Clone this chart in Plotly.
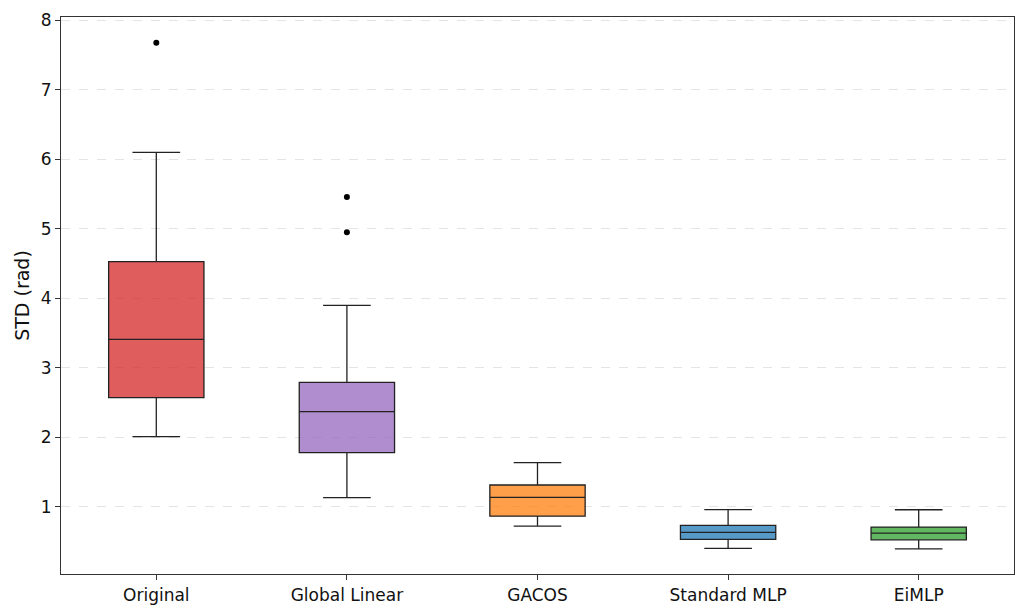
import plotly.graph_objects as go

methods = ["Original", "Global Linear", "GACOS", "Standard MLP", "EiMLP"]
q1 = [2.57, 1.78, 0.865, 0.53, 0.524]
median = [3.41, 2.37, 1.135, 0.63, 0.62]
q3 = [4.53, 2.79, 1.313, 0.731, 0.707]
lower = [2.01, 1.13, 0.72, 0.40, 0.395]
upper = [6.10, 3.90, 1.635, 0.96, 0.957]
outlier_x = ["Original", "Global Linear", "Global Linear"]
outlier_y = [7.68, 5.46, 4.95]
colors = ["rgba(214,39,40,0.75)", "rgba(148,103,189,0.75)", "rgba(255,127,14,0.75)",
          "rgba(31,119,180,0.75)", "rgba(44,160,44,0.75)"]

fig = go.Figure()
for i, m in enumerate(methods):
    fig.add_trace(go.Box(
        x=[m], q1=[q1[i]], median=[median[i]], q3=[q3[i]],
        lowerfence=[lower[i]], upperfence=[upper[i]],
        fillcolor=colors[i], line=dict(color="#222222", width=1.3),
        width=0.5, whiskerwidth=0.5, boxpoints=False, showlegend=False,
        hoverinfo="y",
    ))

fig.add_trace(go.Scatter(
    x=outlier_x, y=outlier_y, mode="markers",
    marker=dict(color="black", size=6), showlegend=False,
))

fig.update_layout(
    width=1026, height=612,
    margin=dict(l=61, r=12, t=17, b=38),
    paper_bgcolor="white", plot_bgcolor="white",
    font=dict(family="DejaVu Sans", size=17, color="#111"),
)
fig.update_xaxes(
    type="category", categoryorder="array", categoryarray=methods,
    range=[-0.5, 4.5], showline=True, linecolor="#333", linewidth=1.2, mirror=True,
    ticks="outside", ticklen=5, tickcolor="#333", showgrid=False, automargin=False,
)
fig.update_yaxes(
    range=[0.032, 8.05], tickvals=[1, 2, 3, 4, 5, 6, 7, 8],
    showline=True, linecolor="#333", linewidth=1.2, mirror=True,
    ticks="outside", ticklen=5, tickcolor="#333",
    showgrid=True, gridcolor="#e4e4e4", griddash="dash", gridwidth=1,
    zeroline=False, automargin=False,
    title=dict(text="STD (rad)", font=dict(size=19), standoff=6),
)

# drop the browser's default page margin so the figure sits at (0, 0)
fig.write_html("out.html", config={"displayModeBar": False},
               post_script="document.body.style.margin='0';")
